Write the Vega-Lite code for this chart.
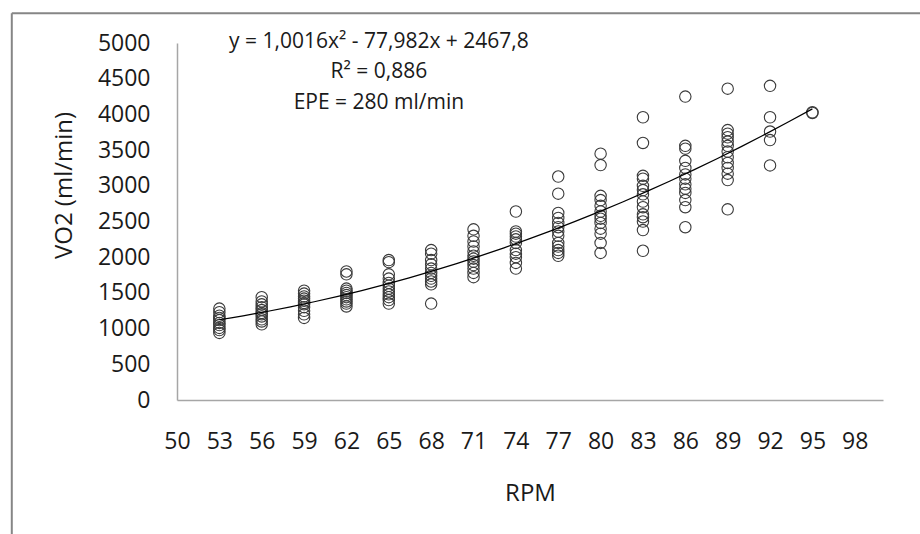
{
  "$schema": "https://vega.github.io/schema/vega-lite/v6.json",
  "width": 706,
  "height": 357,
  "autosize": "none",
  "padding": {"left": 177, "top": 43, "right": 37, "bottom": 134},
  "background": "white",
  "config": {
    "view": {"stroke": null},
    "font": "Open Sans",
    "axis": {"grid": false, "ticks": false, "domainColor": "#a6a6a6", "domainWidth": 1.5, "labelColor": "#1a1a1a", "titleColor": "#1a1a1a", "labelFont": "Open Sans", "titleFont": "Open Sans", "labelFontSize": 23, "titleFontSize": 24, "titleFontWeight": "normal", "labelFlush": false, "labelOverlap": false, "format": "d"}
  },
  "data": {"values": [
    {"rpm":53,"vo2":1280},{"rpm":53,"vo2":1230},{"rpm":53,"vo2":1180},{"rpm":53,"vo2":1150},{"rpm":53,"vo2":1120},{"rpm":53,"vo2":1080},{"rpm":53,"vo2":1050},{"rpm":53,"vo2":1010},{"rpm":53,"vo2":980},{"rpm":53,"vo2":940},
    {"rpm":56,"vo2":1440},{"rpm":56,"vo2":1380},{"rpm":56,"vo2":1340},{"rpm":56,"vo2":1300},{"rpm":56,"vo2":1260},{"rpm":56,"vo2":1220},{"rpm":56,"vo2":1200},{"rpm":56,"vo2":1170},{"rpm":56,"vo2":1130},{"rpm":56,"vo2":1100},{"rpm":56,"vo2":1060},
    {"rpm":59,"vo2":1530},{"rpm":59,"vo2":1490},{"rpm":59,"vo2":1450},{"rpm":59,"vo2":1420},{"rpm":59,"vo2":1390},{"rpm":59,"vo2":1360},{"rpm":59,"vo2":1340},{"rpm":59,"vo2":1300},{"rpm":59,"vo2":1250},{"rpm":59,"vo2":1200},{"rpm":59,"vo2":1150},
    {"rpm":62,"vo2":1800},{"rpm":62,"vo2":1760},{"rpm":62,"vo2":1560},{"rpm":62,"vo2":1530},{"rpm":62,"vo2":1500},{"rpm":62,"vo2":1470},{"rpm":62,"vo2":1440},{"rpm":62,"vo2":1410},{"rpm":62,"vo2":1380},{"rpm":62,"vo2":1350},{"rpm":62,"vo2":1310},
    {"rpm":65,"vo2":1960},{"rpm":65,"vo2":1930},{"rpm":65,"vo2":1760},{"rpm":65,"vo2":1700},{"rpm":65,"vo2":1640},{"rpm":65,"vo2":1600},{"rpm":65,"vo2":1560},{"rpm":65,"vo2":1520},{"rpm":65,"vo2":1480},{"rpm":65,"vo2":1440},{"rpm":65,"vo2":1400},{"rpm":65,"vo2":1350},
    {"rpm":68,"vo2":2100},{"rpm":68,"vo2":2050},{"rpm":68,"vo2":1960},{"rpm":68,"vo2":1900},{"rpm":68,"vo2":1840},{"rpm":68,"vo2":1780},{"rpm":68,"vo2":1740},{"rpm":68,"vo2":1700},{"rpm":68,"vo2":1660},{"rpm":68,"vo2":1620},{"rpm":68,"vo2":1350},
    {"rpm":71,"vo2":2390},{"rpm":71,"vo2":2300},{"rpm":71,"vo2":2220},{"rpm":71,"vo2":2150},{"rpm":71,"vo2":2080},{"rpm":71,"vo2":2020},{"rpm":71,"vo2":1980},{"rpm":71,"vo2":1940},{"rpm":71,"vo2":1890},{"rpm":71,"vo2":1840},{"rpm":71,"vo2":1780},{"rpm":71,"vo2":1720},
    {"rpm":74,"vo2":2640},{"rpm":74,"vo2":2360},{"rpm":74,"vo2":2330},{"rpm":74,"vo2":2290},{"rpm":74,"vo2":2250},{"rpm":74,"vo2":2200},{"rpm":74,"vo2":2100},{"rpm":74,"vo2":2050},{"rpm":74,"vo2":2000},{"rpm":74,"vo2":1920},{"rpm":74,"vo2":1840},
    {"rpm":77,"vo2":3130},{"rpm":77,"vo2":2890},{"rpm":77,"vo2":2620},{"rpm":77,"vo2":2550},{"rpm":77,"vo2":2480},{"rpm":77,"vo2":2420},{"rpm":77,"vo2":2360},{"rpm":77,"vo2":2300},{"rpm":77,"vo2":2200},{"rpm":77,"vo2":2150},{"rpm":77,"vo2":2100},{"rpm":77,"vo2":2060},{"rpm":77,"vo2":2020},
    {"rpm":80,"vo2":3450},{"rpm":80,"vo2":3290},{"rpm":80,"vo2":2860},{"rpm":80,"vo2":2800},{"rpm":80,"vo2":2720},{"rpm":80,"vo2":2640},{"rpm":80,"vo2":2580},{"rpm":80,"vo2":2540},{"rpm":80,"vo2":2480},{"rpm":80,"vo2":2400},{"rpm":80,"vo2":2330},{"rpm":80,"vo2":2200},{"rpm":80,"vo2":2060},
    {"rpm":83,"vo2":3960},{"rpm":83,"vo2":3600},{"rpm":83,"vo2":3140},{"rpm":83,"vo2":3100},{"rpm":83,"vo2":3000},{"rpm":83,"vo2":2940},{"rpm":83,"vo2":2880},{"rpm":83,"vo2":2780},{"rpm":83,"vo2":2700},{"rpm":83,"vo2":2600},{"rpm":83,"vo2":2560},{"rpm":83,"vo2":2500},{"rpm":83,"vo2":2380},{"rpm":83,"vo2":2090},
    {"rpm":86,"vo2":4250},{"rpm":86,"vo2":3560},{"rpm":86,"vo2":3520},{"rpm":86,"vo2":3350},{"rpm":86,"vo2":3250},{"rpm":86,"vo2":3160},{"rpm":86,"vo2":3100},{"rpm":86,"vo2":3020},{"rpm":86,"vo2":2960},{"rpm":86,"vo2":2900},{"rpm":86,"vo2":2800},{"rpm":86,"vo2":2700},{"rpm":86,"vo2":2420},
    {"rpm":89,"vo2":4360},{"rpm":89,"vo2":3780},{"rpm":89,"vo2":3730},{"rpm":89,"vo2":3680},{"rpm":89,"vo2":3620},{"rpm":89,"vo2":3560},{"rpm":89,"vo2":3480},{"rpm":89,"vo2":3400},{"rpm":89,"vo2":3320},{"rpm":89,"vo2":3250},{"rpm":89,"vo2":3170},{"rpm":89,"vo2":3080},{"rpm":89,"vo2":2670},
    {"rpm":92,"vo2":4400},{"rpm":92,"vo2":3960},{"rpm":92,"vo2":3760},{"rpm":92,"vo2":3640},{"rpm":92,"vo2":3285},
    {"rpm":95,"vo2":4030},{"rpm":95,"vo2":4020}
  ]},
  "layer": [
    {
      "mark": {"type": "point", "shape": "circle", "filled": false, "stroke": "#3a3a3a", "strokeWidth": 1.1, "size": 130, "opacity": 1},
      "encoding": {
        "x": {"field": "rpm", "type": "quantitative", "scale": {"domain": [50, 100], "nice": false, "zero": false},
              "axis": {"values": [50,53,56,59,62,65,68,71,74,77,80,83,86,89,92,95,98], "labelOverlap": false, "title": "RPM", "labelPadding": 30, "titleBaseline": "middle", "titleY": 93, "titleX": 353}},
        "y": {"field": "vo2", "type": "quantitative", "scale": {"domain": [0, 5000], "nice": false},
              "axis": {"values": [0,500,1000,1500,2000,2500,3000,3500,4000,4500,5000], "tickCount": 11, "labelOverlap": false, "labelBound": false, "title": "VO2 (ml/min)", "labelPadding": 27, "titleBaseline": "middle", "titleX": -113, "titleY": 142}}
      }
    },
    {
      "data": {"values": [{}]},
      "mark": {"type": "rule", "color": "#868686", "strokeWidth": 2, "clip": false},
      "encoding": {"x": {"datum": 38.3, "type": "quantitative"}, "y": {"datum": 5418, "type": "quantitative"}, "y2": {"datum": -2000}}
    },
    {
      "data": {"values": [{}]},
      "mark": {"type": "rule", "color": "#868686", "strokeWidth": 2, "clip": false},
      "encoding": {"x": {"datum": 38.3, "type": "quantitative"}, "x2": {"datum": 104}, "y": {"datum": 5418, "type": "quantitative"}}
    },
    {
      "transform": [{"regression": "vo2", "on": "rpm", "method": "poly", "order": 2, "extent": [53, 95]}],
      "mark": {"type": "line", "color": "#000000", "strokeWidth": 1.2},
      "encoding": {"x": {"field": "rpm", "type": "quantitative"}, "y": {"field": "vo2", "type": "quantitative"}}
    },
    {
      "data": {"values": [{}]},
      "mark": {"type": "text", "text": ["y = 1,0016x² - 77,982x + 2467,8", "R² = 0,886", "EPE = 280 ml/min"], "align": "center", "baseline": "middle", "lineHeight": 30.5, "fontSize": 21, "font": "Open Sans", "color": "#1a1a1a", "clip": false},
      "encoding": {"x": {"datum": 64.3, "type": "quantitative"}, "y": {"datum": 5020, "type": "quantitative"}}
    }
  ]
}
